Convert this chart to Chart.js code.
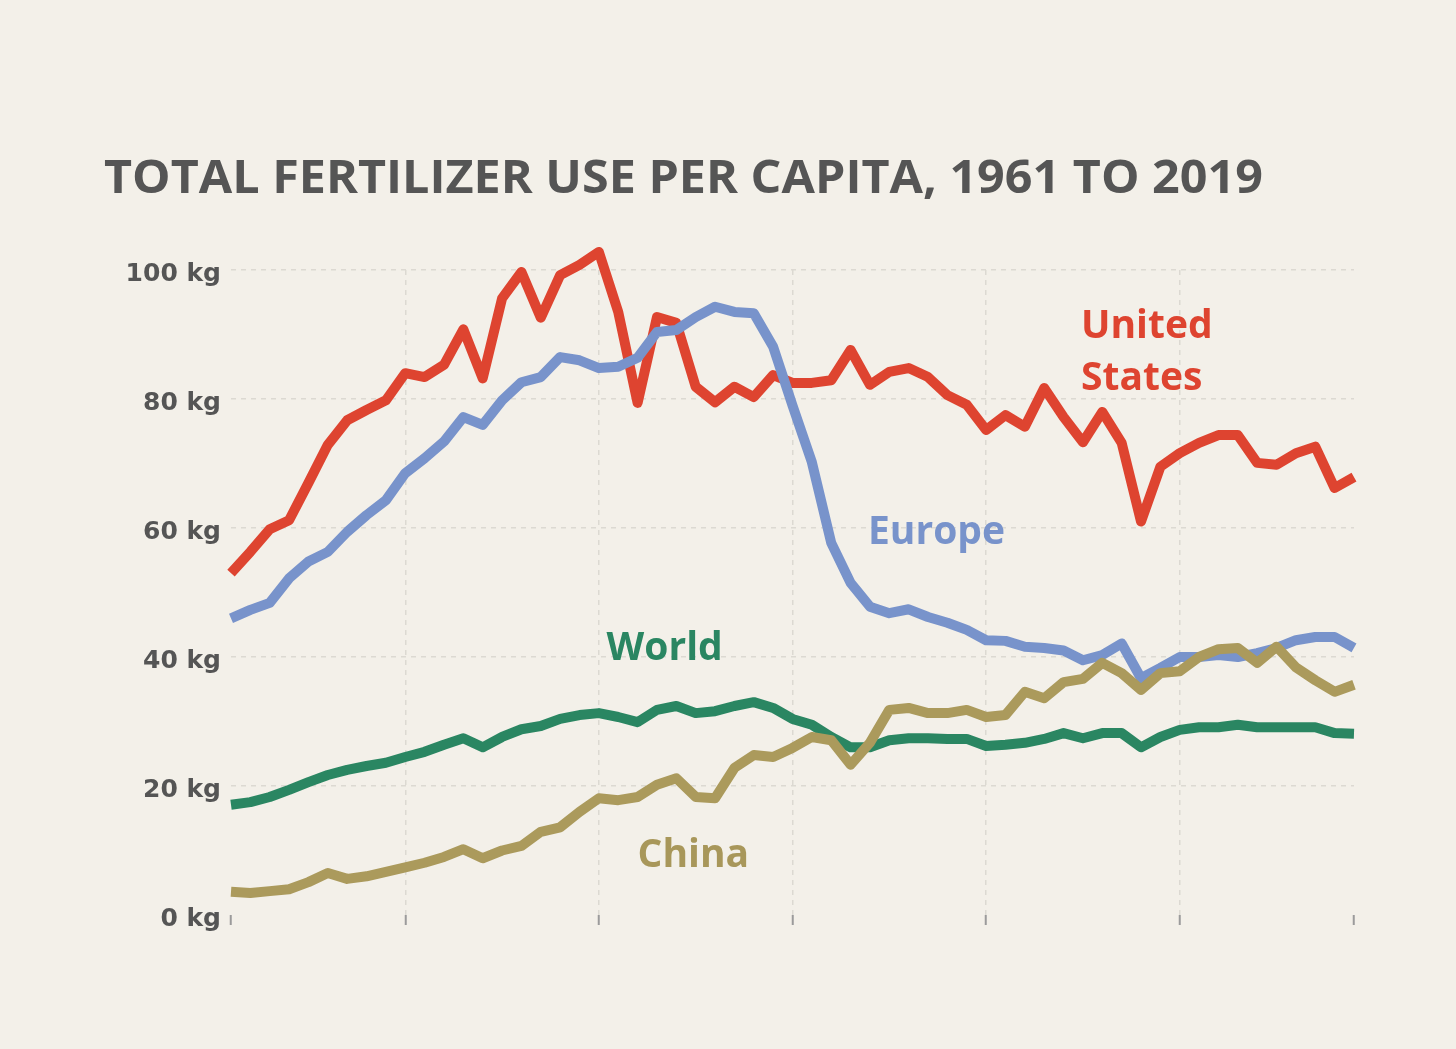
<!DOCTYPE html>
<html>
<head>
<meta charset="utf-8">
<script src="https://cdn.jsdelivr.net/npm/chart.js@4.4.0/dist/chart.umd.min.js"></script>
<style>
html, body { margin: 0; padding: 0; background: #f3f0e9; }
canvas { display: block; }
</style>
</head>
<body>
<canvas id="chart1" width="1456" height="1049"></canvas>
<script>
// kg of fertilizer per person, 1961-2019
var years = [1961, 1962, 1963, 1964, 1965, 1966, 1967, 1968, 1969, 1970,
             1971, 1972, 1973, 1974, 1975, 1976, 1977, 1978, 1979, 1980,
             1981, 1982, 1983, 1984, 1985, 1986, 1987, 1988, 1989, 1990,
             1991, 1992, 1993, 1994, 1995, 1996, 1997, 1998, 1999, 2000,
             2001, 2002, 2003, 2004, 2005, 2006, 2007, 2008, 2009, 2010,
             2011, 2012, 2013, 2014, 2015, 2016, 2017, 2018, 2019];

var unitedStates = [53.0, 56.3, 59.8, 61.2, 67.0, 72.9, 76.7, 78.3, 79.8, 84.0,
                    83.4, 85.3, 90.8, 83.2, 95.6, 99.7, 92.6, 99.2, 100.8, 102.8,
                    93.5, 79.4, 92.7, 91.8, 81.9, 79.5, 81.9, 80.3, 83.7, 82.5,
                    82.5, 82.9, 87.6, 82.2, 84.2, 84.8, 83.4, 80.6, 79.1, 75.2,
                    77.5, 75.7, 81.7, 77.2, 73.3, 78.0, 73.2, 61.0, 69.5, 71.6,
                    73.2, 74.4, 74.4, 70.1, 69.8, 71.6, 72.6, 66.2, 67.9];

var europe = [46.0, 47.3, 48.4, 52.2, 54.8, 56.3, 59.4, 62.0, 64.3, 68.5,
              70.8, 73.4, 77.2, 76.0, 79.8, 82.6, 83.4, 86.5, 86.0, 84.8,
              85.0, 86.4, 90.4, 90.7, 92.7, 94.3, 93.5, 93.3, 88.1, 79.0,
              70.2, 57.7, 51.5, 47.8, 46.8, 47.4, 46.2, 45.3, 44.2, 42.6,
              42.5, 41.6, 41.4, 41.0, 39.5, 40.3, 42.1, 36.7, 38.3, 40.0,
              40.0, 40.3, 40.0, 40.6, 41.4, 42.6, 43.1, 43.1, 41.4];

var world = [17.1, 17.5, 18.3, 19.4, 20.6, 21.7, 22.5, 23.1, 23.6, 24.5,
             25.3, 26.4, 27.4, 26.0, 27.6, 28.8, 29.3, 30.4, 31.0, 31.3,
             30.7, 29.9, 31.8, 32.4, 31.3, 31.6, 32.4, 33.0, 32.1, 30.4,
             29.5, 27.6, 26.0, 26.0, 27.1, 27.4, 27.4, 27.3, 27.3, 26.2,
             26.4, 26.7, 27.3, 28.2, 27.4, 28.2, 28.2, 26.0, 27.6, 28.7,
             29.1, 29.1, 29.5, 29.1, 29.1, 29.1, 29.1, 28.2, 28.1];

var china = [3.6, 3.4, 3.7, 4.0, 5.1, 6.5, 5.6, 6.0, 6.7, 7.4,
             8.1, 9.0, 10.2, 8.8, 10.0, 10.7, 12.9, 13.6, 16.0, 18.1,
             17.8, 18.3, 20.2, 21.2, 18.3, 18.1, 22.8, 24.8, 24.5, 25.9,
             27.6, 27.1, 23.3, 26.7, 31.8, 32.1, 31.3, 31.3, 31.8, 30.7,
             31.0, 34.6, 33.6, 36.1, 36.6, 39.1, 37.5, 34.9, 37.5, 37.8,
             40.0, 41.2, 41.4, 39.1, 41.6, 38.4, 36.4, 34.6, 35.7];

var xTicks = [1961, 1970, 1980, 1990, 2000, 2010, 2019];
var yTicks = [0, 20, 40, 60, 80, 100];

function points(vals) {
    return years.map(function (yr, i) { return { x: yr, y: vals[i] }; });
}

var gridGrey = '#dcd9d2';
var labelFont = '"Open Sans", "DejaVu Sans", sans-serif';

// background, title and the series labels
var decorations = {
    id: 'decorations',
    beforeDraw: function (chart) {
        var c = chart.ctx;
        c.save();
        c.fillStyle = '#f3f0e9';
        c.fillRect(0, 0, chart.width, chart.height);
        c.restore();
    },
    afterDraw: function (chart) {
        var c = chart.ctx;
        var x = chart.scales.x, y = chart.scales.y;

        c.save();
        var title = 'TOTAL FERTILIZER USE PER CAPITA, 1961 TO 2019';
        c.font = 'bold 46px ' + labelFont;
        c.fillStyle = '#555555';
        c.textBaseline = 'alphabetic';
        var w = c.measureText(title).width;
        c.translate(104, 193);
        c.scale(1159 / w, 1);
        c.fillText(title, 0, 0);
        c.restore();

        var labels = [
            { text: 'United', yr: 2004.9, v: 89.5, color: '#de4430' },
            { text: 'States', yr: 2004.9, v: 81.4, color: '#de4430' },
            { text: 'Europe', yr: 1993.9, v: 57.5, color: '#7893cb' },
            { text: 'World', yr: 1980.4, v: 39.5, color: '#2a8662' },
            { text: 'China', yr: 1982.0, v: 7.4, color: '#a8975a' }
        ];
        c.save();
        c.font = 'bold 39px ' + labelFont;
        c.textBaseline = 'alphabetic';
        labels.forEach(function (l) {
            c.fillStyle = l.color;
            c.fillText(l.text, x.getPixelForValue(l.yr), y.getPixelForValue(l.v));
        });
        c.restore();
    }
};

function line(label, vals, color, order) {
    return {
        label: label,
        data: points(vals),
        borderColor: color,
        backgroundColor: color,
        borderWidth: 10,
        borderJoinStyle: 'round',
        borderCapStyle: 'butt',
        pointRadius: 0,
        pointHoverRadius: 0,
        tension: 0,
        clip: false,
        order: order
    };
}

var ctx = document.getElementById('chart1').getContext('2d');
var chart = new Chart(ctx, {
    type: 'line',
    data: {
        datasets: [
            line('China', china, '#ab9a5c', 1),
            line('World', world, '#2a8662', 2),
            line('Europe', europe, '#7893cb', 3),
            line('United States', unitedStates, '#de4430', 4)
        ]
    },
    plugins: [decorations],
    options: {
        responsive: false,
        devicePixelRatio: 1,
        animation: false,
        layout: { padding: { top: 270, right: 102, left: 0, bottom: 0 } },
        plugins: {
            legend: { display: false },
            tooltip: { enabled: false }
        },
        scales: {
            x: {
                type: 'linear',
                min: 1961,
                max: 2019,
                afterBuildTicks: function (s) {
                    s.ticks = xTicks.map(function (v) { return { value: v }; });
                },
                afterFit: function (s) { s.height = 134; },
                ticks: { display: false },
                grid: {
                    color: function (c) {
                        var v = c.tick && c.tick.value;
                        return (v === 1961 || v === 2019) ? 'rgba(0,0,0,0)' : gridGrey;
                    },
                    lineWidth: 1.5,
                    drawTicks: true,
                    tickLength: 10,
                    tickWidth: 2,
                    tickColor: '#9b9b9b'
                },
                border: { display: false, dash: [5, 5] }
            },
            y: {
                min: 0,
                max: 100,
                afterBuildTicks: function (s) {
                    s.ticks = yTicks.map(function (v) { return { value: v }; });
                },
                afterFit: function (s) { s.width = 231; },
                ticks: {
                    color: '#555555',
                    padding: 10,
                    labelOffset: 4,
                    font: { family: 'DejaVu Sans', weight: 'bold', size: 25 },
                    callback: function (v) { return v + ' kg'; }
                },
                grid: {
                    color: function (c) {
                        return (c.tick && c.tick.value === 0) ? 'rgba(0,0,0,0)' : gridGrey;
                    },
                    lineWidth: 1.5,
                    drawTicks: false
                },
                border: { display: false, dash: [5, 5] }
            }
        }
    }
});
</script>
</body>
</html>
